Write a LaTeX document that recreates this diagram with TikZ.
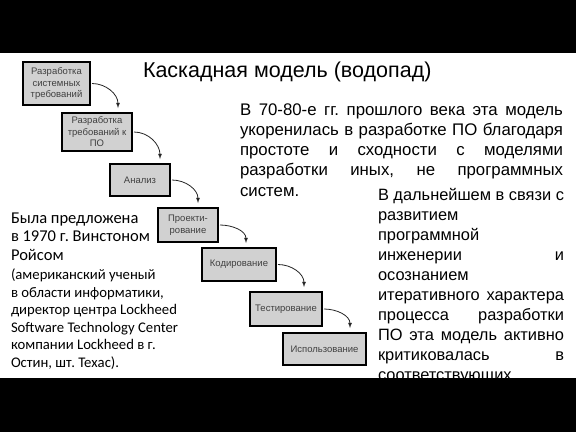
\documentclass[tikz,border=0pt]{standalone}
\usepackage{fontspec}
\setmainfont{Liberation Sans}
\newfontfamily\carlito{Carlito}
\usetikzlibrary{calc}
\frenchspacing

\tikzset{
	etapa/.style={draw=black, line width=2pt, fill=black!18, text=black!75,
		font=\fontsize{9.5}{11.5}\selectfont, align=center, inner sep=1pt},
	flecha/.style={->, >=latex, line width=0.8pt, black!85},
	renglon/.style={anchor=base west, inner sep=0pt, outer sep=0pt},
}

\begin{document}
\begin{tikzpicture}[x=1pt,y=-1pt]
	\useasboundingbox (0,0) rectangle (576,432);
	\fill[white] (0,0) rectangle (576,432);
	% titulo
	\node[renglon, font=\fontsize{21.5}{24}\selectfont] (titulo) at (143,77) {Каскадная модель (водопад)};
	% etapas de la cascada
	\foreach \Nom/\Xc/\Yc/\Ancho/\Alto/\Txt in 
	{e1/56.5/83.5/69/45/{Разработка\\системных\\требований},
	 e2/97/132/72/40/{Разработка\\требований к\\ПО},
	 e3/140/180/62/34/{Анализ},
	 e4/188/225/62/36/{Проекти-\\рование},
	 e5/239/264.5/76/35/{Кодирование},
	 e6/286/309/74/36/{Тестирование},
	 e7/324.5/349/85/34/{Использование}}
	{
		\node[etapa, minimum width={(\Ancho-2)*1pt}, minimum height={(\Alto-2)*1pt}] 
		(\Nom) at (\Xc,\Yc) {\Txt};
	}
	\foreach \A/\B in {e1/e2,e2/e3,e3/e4,e4/e5,e5/e6,e6/e7}
	{
		\draw[flecha] 
		([xshift=1pt]\A.east) to[out=0,in=90] ($(\A.east|-\B.north)+(27pt,4pt)$);
	}
	% texto de la derecha
	\foreach \Al/\Txt [count=\i] in 
	{s/{В 70-80-е гг. прошлого века эта модель},
	 s/{укоренилась в разработке ПО благодаря},
	 s/{простоте и сходности с моделями},
	 s/{разработки иных, не программных},
	 l/{систем.}}
	{
		\node[renglon, font=\fontsize{16.8}{20}\selectfont] 
		(a\i) at (240,{115+20.25*(\i-1)}) {\makebox[323pt][\Al]{\Txt}};
	}
	\foreach \Al/\Txt [count=\i] in 
	{s/{В дальнейшем в связи с},
	 l/{развитием},
	 l/{программной},
	 s/{инженерии и},
	 l/{осознанием},
	 s/{итеративного характера},
	 s/{процесса разработки},
	 s/{ПО эта модель активно},
	 s/{критиковалась в},
	 l/{соответствующих}}
	{
		\node[renglon, font=\fontsize{16.4}{20}\selectfont] 
		(b\i) at (378,{200+20.1*(\i-1)}) {\makebox[186pt][\Al]{\Txt}};
	}
	% texto de la izquierda
	\foreach \Yc/\Txt [count=\i] in 
	{223/{Была предложена},241.5/{в 1970 г. Винстоном},260/{Ройсом}}
	{
		\node[renglon, font=\carlito\fontsize{16.5}{19}\selectfont] (c\i) at (11,\Yc) {\Txt};
	}
	\foreach \Yc/\Txt [count=\i] in 
	{279/{(американский ученый},297/{в области информатики,},314/{директор центра Lockheed},
	 332/{Software Technology Center},349/{компании Lockheed в г.},367/{Остин, шт. Техас).}}
	{
		\node[renglon, font=\carlito\fontsize{14.7}{17}\selectfont] (d\i) at (11,\Yc) {\Txt};
	}
	% bandas negras
	\fill[black] (0,0) rectangle (576,53);
	\fill[black] (0,378) rectangle (576,432);
\end{tikzpicture}
\end{document}
